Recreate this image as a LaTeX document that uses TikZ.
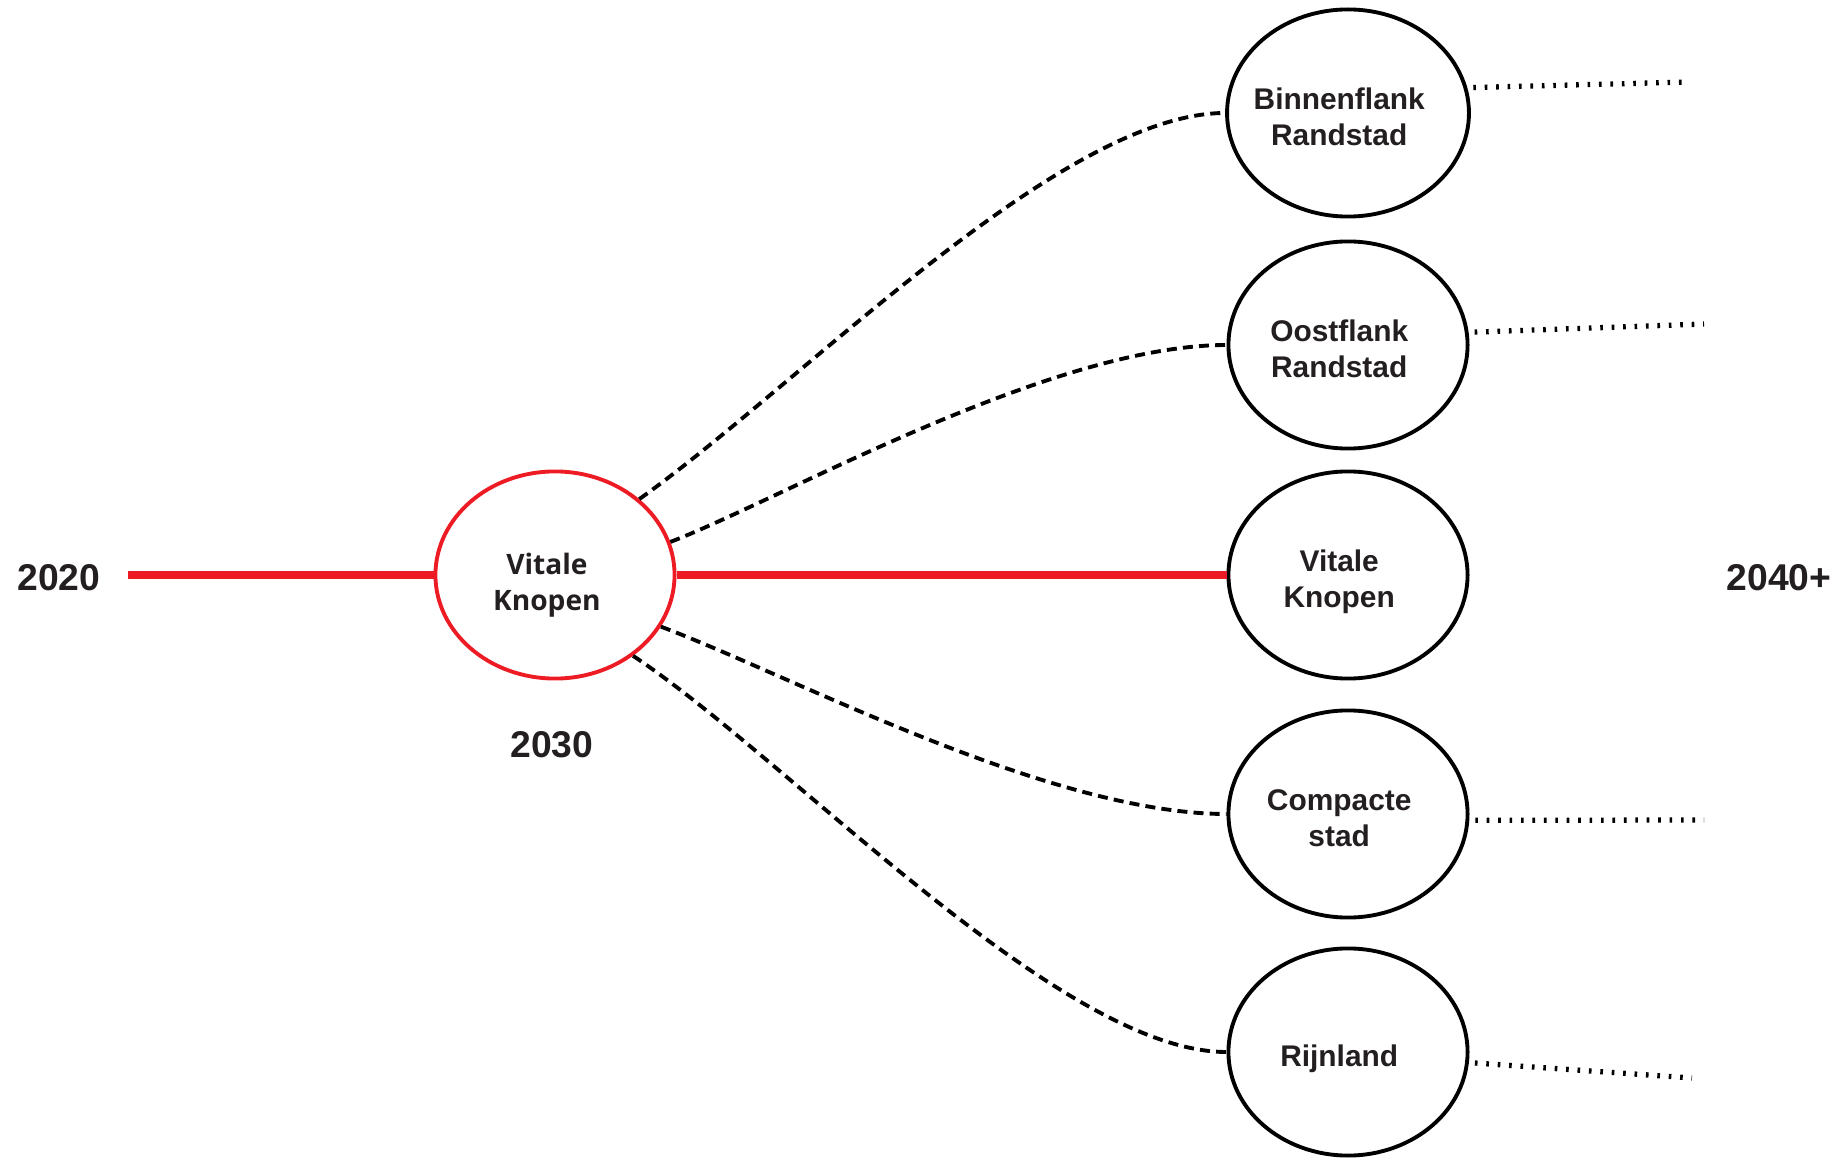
\documentclass[tikz,border=0pt]{standalone}
\usepackage{fontspec}
\setmainfont{Liberation Sans}
\newfontfamily\opensans{Open Sans}
\usetikzlibrary{shapes.geometric}
\definecolor{knoopred}{HTML}{ED1C24}
\definecolor{tekst}{HTML}{231F20}
\newcommand{\knooptekst}[1]{\raisebox{-2pt}[\height][\depth]{\kern-2.5pt\begin{tabular}{@{}c@{}}#1\end{tabular}\kern2.5pt}}
\tikzset{
  scenario/.style={ellipse, draw=black, line width=1.1pt, minimum width=2.39cm,
    minimum height=2.07cm, inner sep=0pt, align=center, text=tekst,
    font=\fontsize{8.5}{10.2}\selectfont\bfseries},
  jaar/.style={text=tekst, font=\fontsize{10.6}{12}\selectfont\bfseries},
  tijdlijn/.style={draw=knoopred, line width=2pt},
  pad/.style={line width=1.1pt, dash pattern=on 2.85pt off 1.75pt},
  vervolg/.style={line width=1.5pt, dash pattern=on 0.75pt off 2.5pt, shorten <=0.06cm}
}

\begin{document}
\begin{tikzpicture}[x=0.01cm, y=-0.01cm]
  \useasboundingbox (0,0) rectangle (1839,1158);
  \node[jaar] (j2020) at (59,578) {2020};
  \node[jaar] (j2030) at (552,745) {2030};
  \node[jaar] (j2040) at (1779,578) {2040+};
  \coordinate (start) at (128,575);

  \node[scenario, draw=knoopred, font=\fontsize{8}{10.2}\selectfont\opensans\bfseries] (vk) at (555,575) {\raisebox{-3pt}[\height][\depth]{\kern-2.3pt\begin{tabular}{@{}c@{}}Vitale\\Knopen\end{tabular}\kern2.3pt}};

  \node[scenario] (bf) at (1348,113) {\knooptekst{Binnenflank\\Randstad}};
  \node[scenario] (of) at (1348,345) {\knooptekst{Oostflank\\Randstad}};
  \node[scenario] (vr) at (1348,575) {\knooptekst{Vitale\\Knopen}};
  \node[scenario] (cs) at (1348,814) {\knooptekst{Compacte\\stad}};
  \node[scenario] (rl) at (1348,1052) {\knooptekst{Rijnland}};

  \draw[tijdlijn] (start) -- (vk.west);
  \draw[tijdlijn] (vk.east) -- (vr.west);

  \draw[pad] (vk.42) .. controls (800,385) and (1060,113) .. (bf.west);
  \draw[pad] (vk.16) .. controls (780,500) and (1050,345) .. (of.west);
  \draw[pad] (vk.-26) .. controls (790,675) and (1050,814) .. (cs.west);
  \draw[pad] (vk.-46) .. controls (790,760) and (1060,1052) .. (rl.west);

  \coordinate (bfend) at (1690,82);
  \coordinate (ofend) at (1704,324);
  \coordinate (csend) at (1704,820);
  \coordinate (rlend) at (1692,1078);
  \draw[vervolg] (bf.12) -- (bfend);
  \draw[vervolg] (of.6) -- (ofend);
  \draw[vervolg] (cs.-3) -- (csend);
  \draw[vervolg] (rl.-5) -- (rlend);
\end{tikzpicture}
\end{document}
